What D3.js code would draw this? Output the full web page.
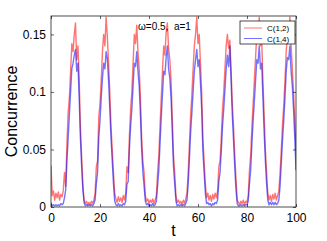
<!DOCTYPE html>
<html>
<head>
<meta charset="utf-8">
<script src="https://cdn.jsdelivr.net/npm/d3@7"></script>
<style>
  body { margin: 0; background: #fff; }
  text { font-family: "Liberation Sans", Arial, sans-serif; }
</style>
</head>
<body>
<div id="chart"></div>
<script>
// samples every 0.5 in t, from t = 0 to t = 100
var tStep = 0.5;

var c12 = [
  0.036, 0.010, 0.014, 0.006, 0.012, 0.008, 0.013, 0.006, 0.011, 0.009,
  0.014, 0.030, 0.018, 0.055, 0.082, 0.095, 0.118, 0.142, 0.135, 0.150,
  0.160, 0.128, 0.140, 0.112, 0.070, 0.045, 0.020, 0.006, 0.003, 0.005,
  0.002, 0.004, 0.002, 0.005, 0.003, 0.006, 0.012, 0.035, 0.040, 0.078,
  0.090, 0.110, 0.135, 0.150, 0.140, 0.165, 0.148, 0.125, 0.100, 0.070,
  0.050, 0.030, 0.012, 0.007, 0.004, 0.009, 0.005, 0.008, 0.004, 0.010,
  0.006, 0.012, 0.035, 0.030, 0.062, 0.085, 0.100, 0.125, 0.150, 0.142,
  0.158, 0.135, 0.120, 0.095, 0.060, 0.040, 0.030, 0.010, 0.005, 0.007,
  0.003, 0.006, 0.004, 0.007, 0.003, 0.006, 0.010, 0.030, 0.045, 0.070,
  0.095, 0.118, 0.140, 0.132, 0.152, 0.160, 0.138, 0.128, 0.110, 0.078,
  0.045, 0.030, 0.010, 0.004, 0.006, 0.003, 0.005, 0.002, 0.006, 0.003,
  0.007, 0.012, 0.030, 0.055, 0.080, 0.098, 0.120, 0.140, 0.150, 0.165,
  0.142, 0.150, 0.125, 0.100, 0.060, 0.040, 0.020, 0.008, 0.012, 0.006,
  0.010, 0.005, 0.011, 0.007, 0.012, 0.008, 0.014, 0.035, 0.040, 0.060,
  0.085, 0.100, 0.120, 0.140, 0.150, 0.138, 0.145, 0.120, 0.090, 0.070,
  0.045, 0.025, 0.006, 0.004, 0.002, 0.005, 0.003, 0.006, 0.002, 0.005,
  0.004, 0.010, 0.032, 0.045, 0.070, 0.090, 0.110, 0.130, 0.150, 0.145,
  0.165, 0.140, 0.145, 0.110, 0.080, 0.050, 0.030, 0.012, 0.006, 0.010,
  0.005, 0.011, 0.007, 0.012, 0.006, 0.010, 0.014, 0.030, 0.050, 0.072,
  0.088, 0.110, 0.135, 0.150, 0.145, 0.165, 0.140, 0.120, 0.100, 0.075,
  0.050
];

var c14 = [
  0.004, 0.001, 0.002, 0.001, 0.002, 0.001, 0.002, 0.001, 0.003, 0.002,
  0.003, 0.008, 0.015, 0.040, 0.060, 0.080, 0.100, 0.120, 0.125, 0.132,
  0.137, 0.118, 0.125, 0.095, 0.060, 0.035, 0.015, 0.004, 0.001, 0.002,
  0.001, 0.002, 0.001, 0.002, 0.001, 0.003, 0.006, 0.020, 0.030, 0.060,
  0.075, 0.095, 0.112, 0.125, 0.120, 0.135, 0.128, 0.110, 0.085, 0.060,
  0.040, 0.020, 0.005, 0.002, 0.001, 0.003, 0.001, 0.002, 0.001, 0.003,
  0.002, 0.005, 0.020, 0.022, 0.050, 0.070, 0.085, 0.105, 0.125, 0.122,
  0.135, 0.118, 0.105, 0.080, 0.050, 0.030, 0.018, 0.005, 0.002, 0.003,
  0.001, 0.002, 0.001, 0.003, 0.001, 0.002, 0.005, 0.018, 0.032, 0.055,
  0.078, 0.098, 0.118, 0.115, 0.130, 0.140, 0.120, 0.112, 0.095, 0.065,
  0.035, 0.020, 0.005, 0.001, 0.002, 0.001, 0.002, 0.001, 0.002, 0.001,
  0.003, 0.006, 0.020, 0.042, 0.065, 0.082, 0.100, 0.118, 0.128, 0.137,
  0.122, 0.128, 0.108, 0.085, 0.048, 0.030, 0.012, 0.003, 0.004, 0.002,
  0.003, 0.001, 0.003, 0.002, 0.004, 0.003, 0.006, 0.022, 0.030, 0.048,
  0.070, 0.085, 0.102, 0.120, 0.132, 0.122, 0.140, 0.110, 0.080, 0.058,
  0.035, 0.015, 0.003, 0.001, 0.001, 0.002, 0.001, 0.002, 0.001, 0.002,
  0.002, 0.005, 0.020, 0.032, 0.055, 0.075, 0.092, 0.110, 0.128, 0.125,
  0.140, 0.120, 0.125, 0.095, 0.065, 0.040, 0.020, 0.006, 0.002, 0.004,
  0.002, 0.004, 0.002, 0.004, 0.002, 0.003, 0.006, 0.018, 0.038, 0.058,
  0.075, 0.095, 0.118, 0.130, 0.128, 0.140, 0.118, 0.105, 0.085, 0.060,
  0.032
];

var xTicks = [0, 20, 40, 60, 80, 100];
var yTicks = [0, 0.05, 0.1, 0.15];
var yTickLabels = ["0", "0.05", "0.1", "0.15"];
var seriesNames = ["C(1,2)", "C(1,4)"];
var seriesColors = ["#ff0000", "#0000ff"];

var svgWidth = 327;
var svgHeight = 241;
var margin = { top: 16, right: 31, bottom: 34, left: 51 };
var width = svgWidth - margin.left - margin.right;
var height = svgHeight - margin.top - margin.bottom;

var svg = d3.select("#chart")
  .append("svg")
  .attr("width", svgWidth)
  .attr("height", svgHeight);

var chart = svg.append("g")
  .attr("transform", `translate(${margin.left}, ${margin.top})`);

var x = d3.scaleLinear().domain([0, 100]).range([0, width]);
var y = d3.scaleLinear().domain([0, 0.166]).range([height, 0]);

chart.append("defs").append("clipPath").attr("id", "clip")
  .append("rect").attr("width", width).attr("height", height);

var line = d3.line()
  .x((d, i) => x(i * tStep))
  .y(d => y(d));

var plot = chart.append("g").attr("clip-path", "url(#clip)");

[c12, c14].forEach(function(s, k) {
  plot.append("path")
    .datum(s)
    .attr("fill", "none")
    .attr("stroke", seriesColors[k])
    .attr("stroke-opacity", 0.55)
    .attr("stroke-width", 1.4)
    .attr("stroke-linejoin", "round")
    .attr("d", line);
});

// axes, matlab style: ticks inside on all four sides
var tickFont = 12;
chart.append("g")
  .attr("transform", `translate(0, ${height})`)
  .call(d3.axisBottom(x).tickValues(xTicks).tickSizeInner(-3).tickSizeOuter(0).tickPadding(6))
  .call(g => g.selectAll("text").attr("font-size", tickFont).attr("fill", "#000"));

chart.append("g")
  .call(d3.axisLeft(y).tickValues(yTicks).tickFormat((d, i) => yTickLabels[i])
    .tickSizeInner(-3).tickSizeOuter(0).tickPadding(5))
  .call(g => g.selectAll("text").attr("font-size", tickFont).attr("fill", "#000"));

chart.append("g")
  .call(d3.axisTop(x).tickValues(xTicks).tickSizeInner(-3).tickSizeOuter(0).tickFormat(""));

chart.append("g")
  .attr("transform", `translate(${width}, 0)`)
  .call(d3.axisRight(y).tickValues(yTicks).tickSizeInner(-3).tickSizeOuter(0).tickFormat(""));

chart.selectAll(".domain").remove();
chart.selectAll(".tick line").attr("stroke", "#000").attr("stroke-width", 0.6);

chart.append("rect")
  .attr("width", width)
  .attr("height", height)
  .attr("fill", "none")
  .attr("stroke", "#000")
  .attr("stroke-width", 0.7);

// labels
chart.append("text")
  .attr("x", width / 2)
  .attr("y", height + 29)
  .attr("text-anchor", "middle")
  .attr("font-size", 16)
  .text("t");

chart.append("text")
  .attr("transform", "rotate(-90)")
  .attr("x", -height / 2)
  .attr("y", -margin.left + 17)
  .attr("text-anchor", "middle")
  .attr("font-size", 16)
  .text("Concurrence");

chart.append("text")
  .attr("x", 87)
  .attr("y", 14)
  .attr("font-size", 10)
  .text("\u03c9=0.5,  a=1")
  .attr("xml:space", "preserve");

// legend
var legend = chart.append("g")
  .attr("transform", `translate(${width - 56}, 5)`);

legend.append("rect")
  .attr("width", 55)
  .attr("height", 23)
  .attr("fill", "#fff")
  .attr("stroke", "#000")
  .attr("stroke-width", 0.7);

seriesNames.forEach(function(name, k) {
  var ly = 7 + k * 10.5;
  legend.append("line")
    .attr("x1", 4).attr("x2", 22)
    .attr("y1", ly).attr("y2", ly)
    .attr("stroke", seriesColors[k])
    .attr("stroke-opacity", 0.55);
  legend.append("text")
    .attr("x", 27)
    .attr("y", ly + 3)
    .attr("font-size", 8)
    .text(name);
});
</script>
</body>
</html>
